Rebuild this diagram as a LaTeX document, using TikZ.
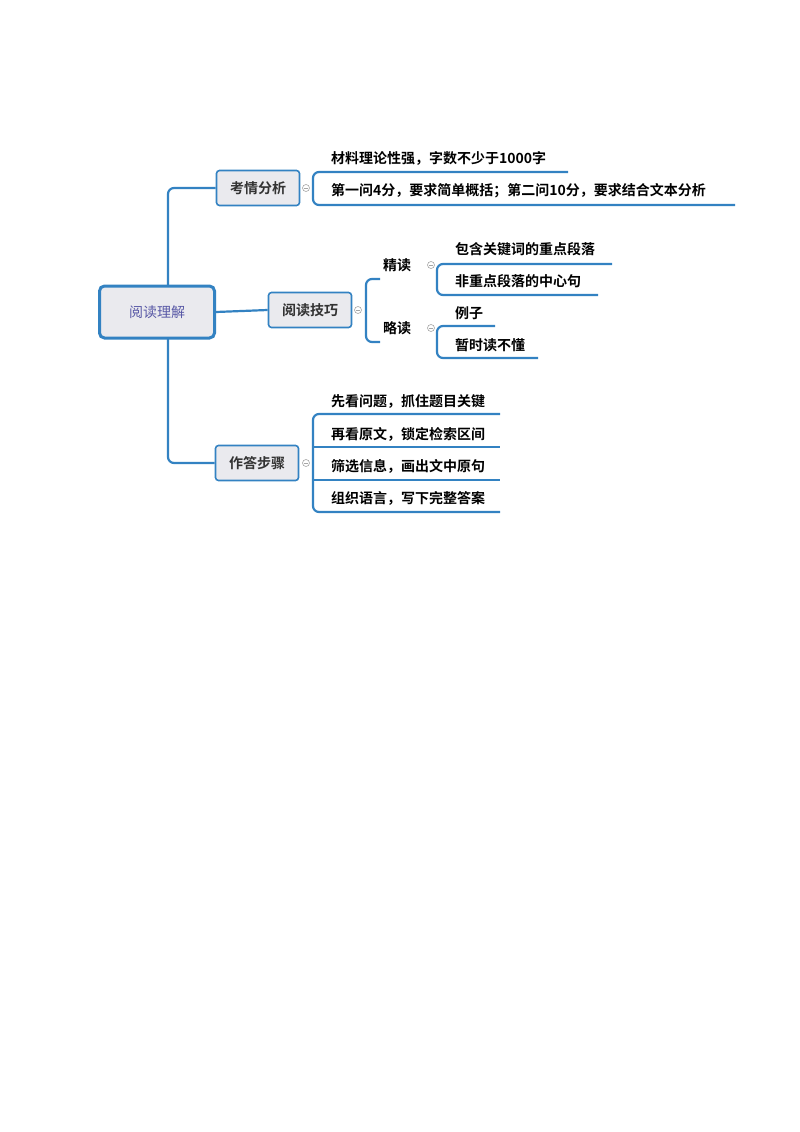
\documentclass[tikz,border=0pt]{standalone}
\usepackage{fontspec}
\newfontfamily\cjk{Noto Sans CJK SC}
\newfontfamily\cjkb{Noto Sans CJK SC Bold}
\begin{document}
\begin{tikzpicture}[x=1pt,y=-1pt,
  ln/.style={draw=blue!45!cyan!70!black!80, line width=2.2pt, rounded corners=6pt},
  ul/.style={draw=blue!45!cyan!70!black!80, line width=2pt},
  topic/.style={draw=blue!45!cyan!70!black!80, line width=1.6pt, fill=blue!10!gray!15, rounded corners=3pt, minimum width=83pt, minimum height=35pt, font=\cjkb\fontsize{14}{14}\selectfont, text=black!80},
  leaf/.style={anchor=west, font=\cjkb\fontsize{14}{14}\selectfont, inner sep=0pt},
  ctl/.style={circle, draw=gray!70, fill=white, line width=0.6pt, minimum size=7pt, inner sep=0pt, path picture={\draw[gray!70,line width=0.6pt] ([xshift=-2pt]path picture bounding box.center)--([xshift=2pt]path picture bounding box.center);}}]
\useasboundingbox (0,0) rectangle (800,1132);
\node[topic, minimum width=115pt, minimum height=52pt, line width=3pt, rounded corners=5pt, font=\cjk\fontsize{14}{14}\selectfont, text=blue!30!gray] (root) at (157,312) {阅读理解};
\node[topic] (t1) at (258,188) {考情分析};
\node[topic] (t2) at (310,310) {阅读技巧};
\node[topic] (t3) at (257,463) {作答步骤};
\coordinate (trunk) at (168,312);
\draw[ln] (t1.west) -| (168,286);
\draw[ln] (t3.west) -| (168,338);
\draw[ln] (root.east) -- (t2.west);
% branch 1
\coordinate (a1) at (313,172); \coordinate (a2) at (313,205);
\draw[ln] (568,172) -- (a1) -- (a2) -- (735,205);
\node[ctl] (c1) at (306,188) {};
\node[leaf] (l11) at (331,158) {材料理论性强，字数不少于1000字};
\node[leaf] (l12) at (331,191) {第一问4分，要求简单概括；第二问10分，要求结合文本分析};
% branch 2
\draw[ln] (380,279) -- (366,279) -- (366,342) -- (380,342);
\node[ctl] (c2) at (358,310) {};
\node[leaf] (j) at (383,265) {精读};
\node[leaf] (l) at (383,328) {略读};
\node[ctl] (c21) at (431,265) {};
\node[ctl] (c22) at (431,328) {};
\draw[ln] (612,264) -- (437,264) -- (437,295) -- (598,295);
\draw[ln] (495,326) -- (437,326) -- (437,358) -- (538,358);
\node[leaf] at (455,249) {包含关键词的重点段落};
\node[leaf] at (455,281) {非重点段落的中心句};
\node[leaf] at (455,313) {例子};
\node[leaf] at (455,345) {暂时读不懂};
% branch 3
\draw[ln] (500,414) -- (313,414) -- (313,512) -- (500,512);
\draw[ul] (313,447) -- (500,447);
\draw[ul] (313,480) -- (500,480);
\node[ctl] (c3) at (306,463) {};
\node[leaf] at (331,401) {先看问题，抓住题目关键};
\node[leaf] at (331,434) {再看原文，锁定检索区间};
\node[leaf] at (331,466) {筛选信息，画出文中原句};
\node[leaf] at (331,498) {组织语言，写下完整答案};
\end{tikzpicture}
\end{document}
